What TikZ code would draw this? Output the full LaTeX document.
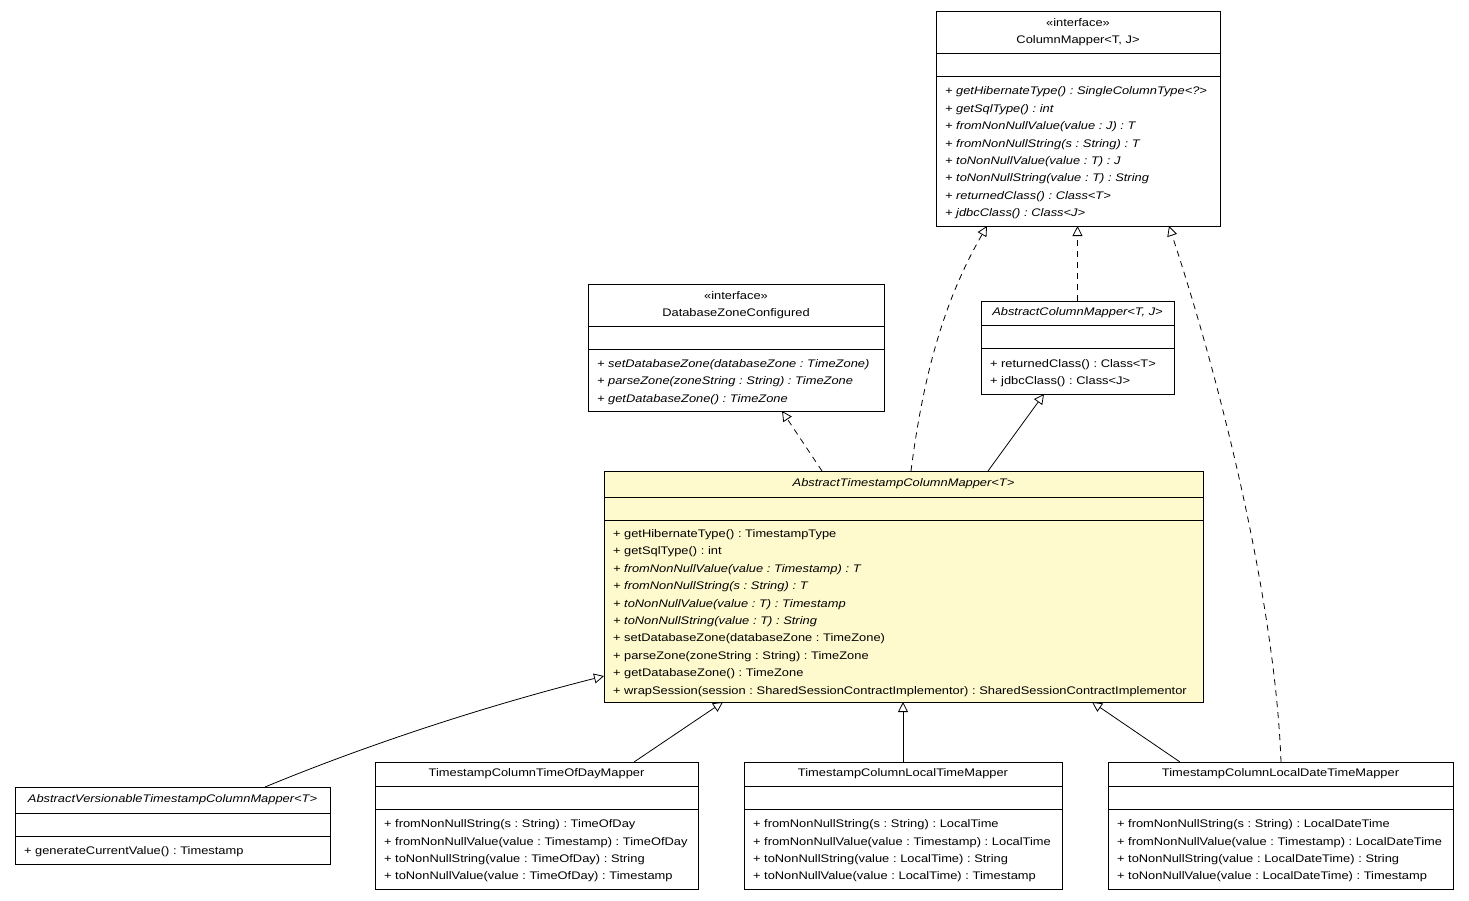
\documentclass[tikz,border=0pt]{standalone}
\usepackage{fontspec}
\newfontfamily\umlfont{Liberation Sans}[FakeStretch=1.17]
\frenchspacing
\usetikzlibrary{positioning, arrows.meta}
\definecolor{classfill}{RGB}{255,250,205}
\tikzstyle{head} = [rectangle, draw, inner sep=0pt, outer sep=0pt, align=center, font=\umlfont\fontsize{11}{17.4}\selectfont\frenchspacing]
\tikzstyle{field} = [rectangle, draw, inner sep=0pt, outer sep=0pt, minimum height=23pt]
\tikzstyle{ops} = [rectangle, draw, inner xsep=9pt, inner ysep=0pt, outer sep=0pt, align=left, font=\umlfont\fontsize{11}{17.4}\selectfont\frenchspacing, execute at begin node={\hyphenpenalty=10000\relax\rule{0pt}{12pt}}]
\tikzstyle{realize} = [draw, dash pattern=on 6pt off 5pt, -{Triangle[open, length=10pt, width=10pt]}]
\tikzstyle{inherit} = [draw, -{Triangle[open, length=10pt, width=10pt]}]

\begin{document}
\begin{tikzpicture}[x=1pt, y=-1pt, line width=0.8pt]
  \path [use as bounding box, fill=white] (0,0) rectangle (1469,900);

  % interfaces
  \node [head, minimum width=284pt, minimum height=42pt, anchor=north west] (cm) at (936,11) {«interface»\\ColumnMapper<T, J>};
  \node [field, minimum width=284pt, below=0pt of cm] (cm-f) {};
  \node [ops, text width=266pt, minimum height=150pt, below=0pt of cm-f] (cm-o) {\itshape
    + getHibernateType() : SingleColumnType<?>\\
    + getSqlType() : int\\
    + fromNonNullValue(value : J) : T\\
    + fromNonNullString(s : String) : T\\
    + toNonNullValue(value : T) : J\\
    + toNonNullString(value : T) : String\\
    + returnedClass() : Class<T>\\
    + jdbcClass() : Class<J>};

  \node [head, minimum width=296pt, minimum height=42pt, anchor=north west] (dzc) at (588,284) {«interface»\\DatabaseZoneConfigured};
  \node [field, minimum width=296pt, below=0pt of dzc] (dzc-f) {};
  \node [ops, text width=278pt, minimum height=62pt, below=0pt of dzc-f] (dzc-o) {\itshape
    + setDatabaseZone(databaseZone : TimeZone)\\
    + parseZone(zoneString : String) : TimeZone\\
    + getDatabaseZone() : TimeZone};

  % abstract classes
  \node [head, minimum width=193pt, minimum height=24pt, anchor=north west] (acm) at (981,301) {\itshape AbstractColumnMapper<T, J>};
  \node [field, minimum width=193pt, below=0pt of acm] (acm-f) {};
  \node [ops, text width=175pt, minimum height=46pt, below=0pt of acm-f] (acm-o) {%
    + returnedClass() : Class<T>\\
    + jdbcClass() : Class<J>};

  \node [head, fill=classfill, minimum width=599pt, minimum height=26pt, anchor=north west] (ats) at (604,471) {\itshape AbstractTimestampColumnMapper<T>};
  \node [field, fill=classfill, minimum width=599pt, below=0pt of ats] (ats-f) {};
  \node [ops, fill=classfill, text width=581pt, minimum height=182pt, below=0pt of ats-f] (ats-o) {%
    + getHibernateType() : TimestampType\\
    + getSqlType() : int\\
    \textit{+ fromNonNullValue(value : Timestamp) : T}\\
    \textit{+ fromNonNullString(s : String) : T}\\
    \textit{+ toNonNullValue(value : T) : Timestamp}\\
    \textit{+ toNonNullString(value : T) : String}\\
    + setDatabaseZone(databaseZone : TimeZone)\\
    + parseZone(zoneString : String) : TimeZone\\
    + getDatabaseZone() : TimeZone\\
    + wrapSession(session : SharedSessionContractImplementor) : SharedSessionContractImplementor};

  \node [head, minimum width=315pt, minimum height=26pt, anchor=north west] (av) at (15,787) {\itshape AbstractVersionableTimestampColumnMapper<T>};
  \node [field, minimum width=315pt, below=0pt of av] (av-f) {};
  \node [ops, text width=297pt, minimum height=28pt, below=0pt of av-f] (av-o) {+ generateCurrentValue() : Timestamp};

  % concrete mappers
  \node [head, minimum width=323pt, minimum height=24pt, anchor=north west] (tod) at (375,762) {TimestampColumnTimeOfDayMapper};
  \node [field, minimum width=323pt, below=0pt of tod] (tod-f) {};
  \node [ops, text width=305pt, minimum height=80pt, below=0pt of tod-f] (tod-o) {%
    + fromNonNullString(s : String) : TimeOfDay\\
    + fromNonNullValue(value : Timestamp) : TimeOfDay\\
    + toNonNullString(value : TimeOfDay) : String\\
    + toNonNullValue(value : TimeOfDay) : Timestamp};

  \node [head, minimum width=318pt, minimum height=24pt, anchor=north west] (lt) at (744,762) {TimestampColumnLocalTimeMapper};
  \node [field, minimum width=318pt, below=0pt of lt] (lt-f) {};
  \node [ops, text width=300pt, minimum height=80pt, below=0pt of lt-f] (lt-o) {%
    + fromNonNullString(s : String) : LocalTime\\
    + fromNonNullValue(value : Timestamp) : LocalTime\\
    + toNonNullString(value : LocalTime) : String\\
    + toNonNullValue(value : LocalTime) : Timestamp};

  \node [head, minimum width=345pt, minimum height=24pt, anchor=north west] (ldt) at (1108,762) {TimestampColumnLocalDateTimeMapper};
  \node [field, minimum width=345pt, below=0pt of ldt] (ldt-f) {};
  \node [ops, text width=327pt, minimum height=80pt, below=0pt of ldt-f] (ldt-o) {%
    + fromNonNullString(s : String) : LocalDateTime\\
    + fromNonNullValue(value : Timestamp) : LocalDateTime\\
    + toNonNullString(value : LocalDateTime) : String\\
    + toNonNullValue(value : LocalDateTime) : Timestamp};

  % realizations
  \path [realize] ([xshift=218pt]ats.north west) -- ([xshift=194pt]dzc-o.south west);
  \path [realize] ([xshift=307pt]ats.north west) .. controls +(14,-111) and +(-37,64) .. ([xshift=51pt]cm-o.south west);
  \path [realize] (acm.north) -- (acm.north |- cm-o.south);
  \path [realize] ([xshift=173pt]ldt.north west) .. controls +(-6,-162) and +(51,154) .. ([xshift=233pt]cm-o.south west);

  % generalizations
  \path [inherit] ([xshift=384pt]ats.north west) -- ([xshift=63pt]acm-o.south west);
  \path [inherit] ([xshift=250pt]av.north west) .. controls +(65,-27) and +(-154,39) .. ([yshift=26pt]ats-o.south west);
  \path [inherit] ([xshift=259pt]tod.north west) -- ([xshift=119pt]ats-o.south west);
  \path [inherit] (lt.north) -- (lt.north |- ats-o.south);
  \path [inherit] ([xshift=72pt]ldt.north west) -- ([xshift=488pt]ats-o.south west);
\end{tikzpicture}
\end{document}
